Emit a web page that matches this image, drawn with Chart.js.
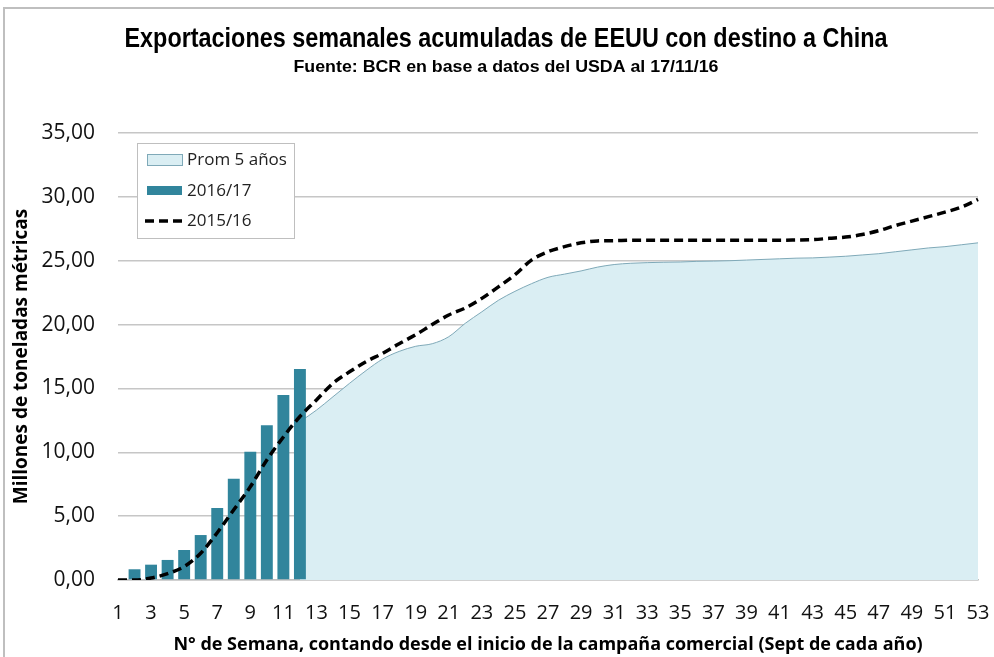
<!doctype html>
<html lang="es">
  <head>
    <meta charset="utf-8">
    <title>Exportaciones semanales acumuladas de EEUU con destino a China</title>
    <style>
      * { margin: 0; padding: 0; }
      body { background: #fff; }
      .chartBox { width: 994px; height: 657px; position: relative; }
    </style>
  </head>
  <body>
    <div class="chartBox">
      <canvas id="myChart"></canvas>
    </div>

    <script src="https://cdn.jsdelivr.net/npm/chart.js@4.4.0/dist/chart.umd.min.js"></script>
    <script>
    // data block
    const weeks = ['1','2','3','4','5','6','7','8','9','10','11','12','13','14','15','16','17','18',
      '19','20','21','22','23','24','25','26','27','28','29','30','31','32','33','34','35','36',
      '37','38','39','40','41','42','43','44','45','46','47','48','49','50','51','52','53'];

    // 2016/17 (bars), only up to week 12
    const exp2016 = [null, 0.84, 1.2, 1.57, 2.35, 3.52, 5.64, 7.93, 10.05, 12.11, 14.49, 16.52];

    // 2015/16 (dashed line)
    const exp2015 = [0, 0, 0.15, 0.5, 1.05, 2.1, 3.7, 5.5, 7.3, 9.4, 11.2, 12.8, 14.1, 15.4, 16.3,
      17.1, 17.75, 18.5, 19.2, 20.0, 20.75, 21.3, 22.05, 22.95, 23.9, 25.05, 25.7, 26.1, 26.4,
      26.55, 26.57, 26.6, 26.6, 26.6, 26.6, 26.6, 26.6, 26.6, 26.6, 26.6, 26.6, 26.62, 26.65,
      26.75, 26.85, 27.05, 27.35, 27.75, 28.1, 28.45, 28.8, 29.2, 29.8];

    // Prom 5 años (area), from week 12
    const prom5 = [null, null, null, null, null, null, null, null, null, null, null, 12.4, 13.3,
      14.35, 15.4, 16.4, 17.3, 17.9, 18.3, 18.5, 19.05, 20.1, 21.0, 21.9, 22.6, 23.2, 23.7, 23.95,
      24.2, 24.5, 24.7, 24.8, 24.85, 24.88, 24.9, 24.95, 24.97, 25.0, 25.05, 25.1, 25.15, 25.2,
      25.22, 25.28, 25.35, 25.45, 25.55, 25.7, 25.85, 26.0, 26.1, 26.25, 26.4];

    const yTickLabels = ['0,00','5,00','10,00','15,00','20,00','25,00','30,00','35,00'];

    const titleText = 'Exportaciones semanales acumuladas de EEUU con destino a China';
    const subtitleText = 'Fuente: BCR en base a datos del USDA al 17/11/16';

    const TEAL = '#31859c';
    const LIGHT = '#daeef3';
    const AREA_LINE = '#7fa9b8';

    const data = {
      labels: weeks,
      datasets: [
        {
          type: 'line',
          label: '2015/16',
          data: exp2015,
          borderColor: '#000',
          borderWidth: 3.5,
          borderDash: [9, 5],
          pointRadius: 0,
          fill: false,
          cubicInterpolationMode: 'monotone',
          order: 0
        },
        {
          type: 'bar',
          label: '2016/17',
          data: exp2016,
          backgroundColor: TEAL,
          barPercentage: 0.72,
          categoryPercentage: 1,
          order: 1
        },
        {
          type: 'line',
          label: 'Prom 5 años',
          data: prom5,
          borderColor: AREA_LINE,
          borderWidth: 1,
          backgroundColor: LIGHT,
          pointRadius: 0,
          fill: 'origin',
          cubicInterpolationMode: 'monotone',
          order: 2
        }
      ]
    };

    // draw text squeezed to a given width (condensed look)
    function fitText(ctx, text, x, y, font, width) {
      ctx.font = font;
      const w = ctx.measureText(text).width;
      ctx.save();
      ctx.translate(x, y);
      ctx.scale(width / w, 1);
      ctx.fillText(text, 0, 0);
      ctx.restore();
    }

    // background + frame + headings
    const frame = {
      id: 'frame',
      beforeDraw(chart) {
        const { ctx, width, height } = chart;
        ctx.save();
        ctx.fillStyle = '#fff';
        ctx.fillRect(0, 0, width, height);
        ctx.strokeStyle = '#bfbfbf';
        ctx.lineWidth = 2;
        ctx.beginPath();
        ctx.moveTo(4, height);
        ctx.lineTo(4, 8);
        ctx.lineTo(width, 8);
        ctx.stroke();
        ctx.restore();
      },
      afterDraw(chart) {
        const { ctx } = chart;
        ctx.save();
        ctx.fillStyle = '#000';
        ctx.textAlign = 'center';
        ctx.textBaseline = 'alphabetic';
        fitText(ctx, titleText, 506, 47, 'bold 28px "Liberation Sans"', 763);
        fitText(ctx, subtitleText, 506, 72, 'bold 16.5px "Liberation Sans"', 425);
        ctx.restore();
      }
    };

    // legend box inside the plot
    const insideLegend = {
      id: 'insideLegend',
      afterDraw(chart) {
        const { ctx, chartArea: { left, top } } = chart;
        const x = left + 19, y = top + 10, w = 157, h = 95;
        ctx.save();
        ctx.fillStyle = '#fff';
        ctx.fillRect(x, y, w, h);
        ctx.strokeStyle = '#bfbfbf';
        ctx.lineWidth = 1;
        ctx.strokeRect(x + 0.5, y + 0.5, w, h);

        ctx.font = '17px "Open Sans"';
        ctx.textBaseline = 'middle';
        ctx.textAlign = 'left';

        // Prom 5 años
        ctx.fillStyle = LIGHT;
        ctx.fillRect(x + 10, y + 11, 35, 11);
        ctx.strokeStyle = AREA_LINE;
        ctx.strokeRect(x + 10.5, y + 11.5, 35, 11);
        ctx.fillStyle = '#222';
        ctx.fillText('Prom 5 años', x + 50, y + 17);

        // 2016/17
        ctx.fillStyle = TEAL;
        ctx.fillRect(x + 10, y + 43, 35, 9);
        ctx.fillStyle = '#222';
        ctx.fillText('2016/17', x + 50, y + 48);

        // 2015/16
        ctx.strokeStyle = '#000';
        ctx.lineWidth = 3.5;
        ctx.setLineDash([9, 5]);
        ctx.beginPath();
        ctx.moveTo(x + 8, y + 78);
        ctx.lineTo(x + 46, y + 78);
        ctx.stroke();
        ctx.setLineDash([]);
        ctx.fillStyle = '#222';
        ctx.fillText('2015/16', x + 50, y + 78);
        ctx.restore();
      }
    };

    // config block
    const config = {
      type: 'line',
      data: data,
      options: {
        responsive: true,
        maintainAspectRatio: false,
        animation: false,
        layout: { padding: { top: 133, right: 16, left: 0, bottom: 0 } },
        plugins: {
          legend: { display: false },
          title: { display: false },
          tooltip: { enabled: false }
        },
        scales: {
          x: {
            type: 'category',
            offset: false,
            afterFit(scale) {
              scale.height = 77;
              scale.paddingLeft = 0;
              scale.paddingRight = 0;
            },
            grid: { display: false, drawTicks: false },
            border: { display: true, color: '#bfbfbf', width: 1.5 },
            ticks: {
              autoSkip: false,
              maxRotation: 0,
              padding: 21,
              color: '#111',
              font: { family: 'Open Sans', size: 20 },
              callback: (val, index) => (index % 2 === 0 ? weeks[index] : '')
            },
            title: {
              display: true,
              text: 'N° de Semana, contando desde el inicio de la campaña comercial (Sept de cada año)',
              color: '#000',
              font: { family: 'Open Sans', size: 18, weight: 'bold' },
              padding: { top: 0, bottom: 1 }
            }
          },
          y: {
            min: 0,
            max: 35,
            afterFit(scale) { scale.width = 118; },
            grid: { color: '#c6c6c6', lineWidth: 1.5, drawTicks: false },
            border: { display: false },
            ticks: {
              stepSize: 5,
              padding: 23,
              color: '#111',
              font: { family: 'Open Sans', size: 21 },
              callback: (val, index) => yTickLabels[index]
            },
            title: {
              display: true,
              text: 'Millones de toneladas métricas',
              color: '#000',
              font: { family: 'Open Sans', size: 19, weight: 'bold' },
              padding: { top: 10, bottom: 0 }
            }
          }
        }
      },
      plugins: [frame, insideLegend]
    };

    // init render block
    const myChart = new Chart(
      document.getElementById('myChart'),
      config
    );
    </script>
  </body>
</html>
